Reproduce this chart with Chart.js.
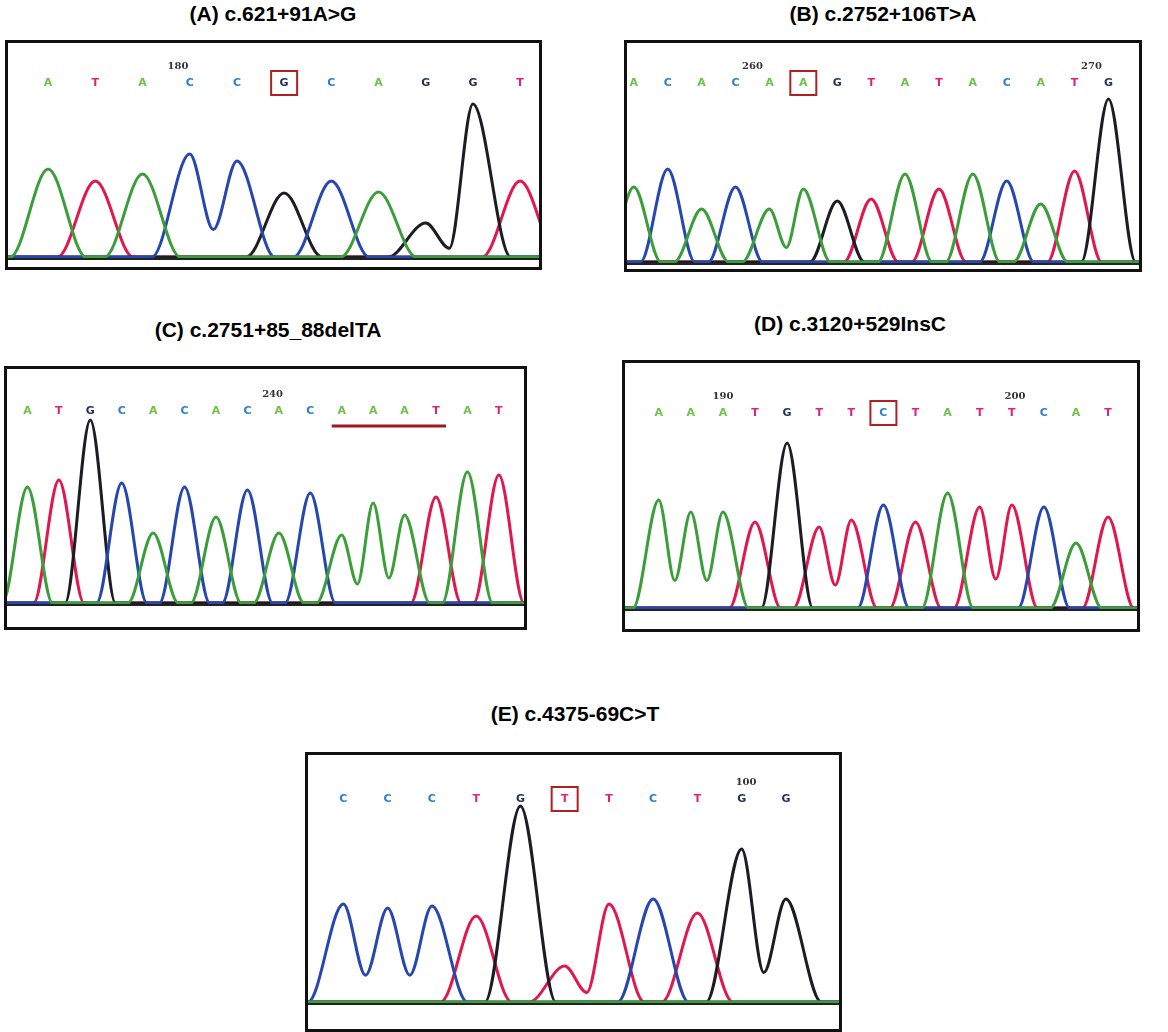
<!DOCTYPE html>
<html>
<head>
<meta charset="utf-8">
<script src="https://cdn.jsdelivr.net/npm/chart.js@4.4.1/dist/chart.umd.min.js"></script>
<style>
  body { margin: 0; background: #fff; width: 1168px; height: 1032px; position: relative; font-family: "Liberation Sans", Arial, sans-serif; }
  .title { position: absolute; font-weight: bold; font-size: 21px; text-align: center; width: 500px; }
  .box { position: absolute; border: 3px solid #111; box-sizing: border-box; }
  .box canvas { position: absolute; left: 0; top: 0; }
</style>
</head>
<body>
<div class="title" style="left:23px;top:2px">(A) c.621+91A&gt;G</div>
<div class="title" style="left:633px;top:2px">(B) c.2752+106T&gt;A</div>
<div class="title" style="left:18px;top:318px">(C) c.2751+85_88delTA</div>
<div class="title" style="left:600px;top:312px">(D) c.3120+529InsC</div>
<div class="title" style="left:325px;top:702px">(E) c.4375-69C&gt;T</div>

<div class="box" id="boxA" style="left:5px;top:40px;width:537px;height:230px"><canvas id="chartA"></canvas></div>
<div class="box" id="boxB" style="left:624px;top:40px;width:518px;height:232px"><canvas id="chartB"></canvas></div>
<div class="box" id="boxC" style="left:4px;top:366px;width:523px;height:264px"><canvas id="chartC"></canvas></div>
<div class="box" id="boxD" style="left:622px;top:360px;width:518px;height:272px"><canvas id="chartD"></canvas></div>
<div class="box" id="boxE" style="left:305px;top:752px;width:537px;height:280px"><canvas id="chartE"></canvas></div>

<script>
// base calls and peak heights (px above baseline) per panel
const basesA = ['A','T','A','C','C','G','C','A','G','G','T'];
const heightsA = [90, 78, 85, 105, 98, 66, 78, 67, 36, 155, 78];
const basesB = ['A','C','A','C','A','A','G','T','A','T','A','C','A','T','G'];
const heightsB = [77, 95, 55, 77, 55, 75, 63, 65, 90, 75, 90, 83, 60, 93, 165];
const basesC = ['A','T','G','C','A','C','A','C','A','C','A','A','A','T','A','T'];
const heightsC = [118, 125, 185, 122, 72, 118, 88, 115, 72, 112, 70, 102, 90, 108, 133, 130];
const basesD = ['A','A','A','T','G','T','T','C','T','A','T','T','C','A','T'];
const heightsD = [110, 98, 98, 88, 167, 83, 90, 105, 88, 117, 103, 105, 103, 67, 93];
const basesE = ['C','C','C','T','G','T','T','C','T','G','G'];
const heightsE = [100, 96, 98, 88, 198, 38, 100, 105, 91, 155, 105];

const traceColors = { A: '#3c9e3a', C: '#2747b0', G: '#1c1c24', T: '#e0184e' };
const letterColors = { A: '#6cc24a', C: '#2f7fd0', G: '#23305e', T: '#e0207a' };

function buildTraces(bases, heights, xMin, xMax) {
  const sets = [];
  ['A', 'C', 'G', 'T'].forEach(function(b) {
    const pts = [{ x: xMin, y: 2 }];
    let prev = -10;
    bases.forEach(function(base, i) {
      if (base !== b) return;
      if (prev === i - 1) {
        pts.push({ x: i - 0.5, y: Math.min(heights[i], heights[prev]) * 0.3 });
      } else {
        pts.push({ x: Math.max(i - 0.8, prev + 0.5), y: 2 });
      }
      pts.push({ x: i, y: heights[i] });
      const next = bases[i + 1];
      if (next !== b) {
        let nextSame = bases.indexOf(b, i + 1);
        let foot = i + 0.8;
        if (nextSame !== -1 && nextSame - 0.8 < foot) foot = (i + nextSame) / 2;
        pts.push({ x: foot, y: 2 });
      }
      prev = i;
    });
    pts.push({ x: xMax, y: 2 });
    sets.push({
      data: pts, borderColor: traceColors[b], borderWidth: 3,
      pointRadius: 0, cubicInterpolationMode: 'monotone', fill: false
    });
  });
  return sets;
}

const lettersPlugin = {
  id: 'letters',
  afterDraw(chart, args, o) {
    const ctx = chart.ctx, xs = chart.scales.x, ys = chart.scales.y;
    ctx.save();
    ctx.font = 'bold 11px "DejaVu Sans", sans-serif';
    ctx.textAlign = 'center';
    ctx.textBaseline = 'middle';
    o.bases.forEach(function(b, i) {
      const x = xs.getPixelForValue(i);
      ctx.fillStyle = letterColors[b];
      ctx.fillText(b, x, o.letterY);
      if (i === o.boxed) {
        ctx.strokeStyle = '#b02020';
        ctx.lineWidth = 2;
        ctx.strokeRect(x - 13, o.letterY - 12, 26, 24);
      }
    });
    ctx.fillStyle = '#333';
    ctx.font = 'bold 10px "DejaVu Serif", serif';
    o.ticks.forEach(function(t) {
      ctx.fillText(t[1], xs.getPixelForValue(t[0]), o.letterY - 17);
    });
    if (o.underline) {
      ctx.strokeStyle = '#a01818';
      ctx.lineWidth = 3;
      ctx.beginPath();
      ctx.moveTo(xs.getPixelForValue(o.underline[0]) - 10, o.letterY + 15);
      ctx.lineTo(xs.getPixelForValue(o.underline[1]) + 10, o.letterY + 15);
      ctx.stroke();
    }
    ctx.strokeStyle = '#222';
    ctx.lineWidth = 2;
    ctx.beginPath();
    ctx.moveTo(0, ys.getPixelForValue(0));
    ctx.lineTo(chart.width, ys.getPixelForValue(0));
    ctx.stroke();
    ctx.restore();
  }
};

function makePanel(id, boxId, bases, heights, cfg) {
  const box = document.getElementById(boxId);
  const cv = document.getElementById(id);
  cv.style.width = (box.clientWidth) + 'px';
  cv.style.height = (box.clientHeight) + 'px';
  new Chart(cv.getContext('2d'), {
    type: 'line',
    data: { datasets: buildTraces(bases, heights, cfg.xMin, cfg.xMax) },
    options: {
      responsive: false, animation: false, maintainAspectRatio: false,
      devicePixelRatio: 1,
      layout: { padding: 0 },
      scales: {
        x: { type: 'linear', display: false, min: cfg.xMin, max: cfg.xMax },
        y: { display: false, min: cfg.yMin, max: cfg.yMax }
      },
      plugins: {
        legend: { display: false }, tooltip: { enabled: false },
        letters: { bases: bases, boxed: cfg.boxed, letterY: cfg.letterY, ticks: cfg.ticks, underline: cfg.underline }
      }
    },
    plugins: [lettersPlugin]
  });
}

document.addEventListener('DOMContentLoaded', function() {
  const sizes = { boxA: [531, 224], boxB: [512, 226], boxC: [517, 258], boxD: [512, 266], boxE: [531, 274] };
  Object.keys(sizes).forEach(function(k) {
    const c = document.getElementById(k).querySelector('canvas');
    c.width = sizes[k][0]; c.height = sizes[k][1];
  });
  makePanel('chartA', 'boxA', basesA, heightsA, { xMin: -0.85, xMax: 10.4, yMin: -8, yMax: 216, boxed: 5, letterY: 40, ticks: [[2.75, '180']] });
  makePanel('chartB', 'boxB', basesB, heightsB, { xMin: -0.2, xMax: 14.9, yMin: -5, yMax: 221, boxed: 5, letterY: 40, ticks: [[3.5, '260'], [13.5, '270']] });
  makePanel('chartC', 'boxC', basesC, heightsC, { xMin: -0.65, xMax: 15.8, yMin: -22, yMax: 236, boxed: -1, letterY: 42, ticks: [[7.8, '240']], underline: [10, 13] });
  makePanel('chartD', 'boxD', basesD, heightsD, { xMin: -1.05, xMax: 14.9, yMin: -19, yMax: 247, boxed: 7, letterY: 50, ticks: [[2, '190'], [11.1, '200']] });
  makePanel('chartE', 'boxE', basesE, heightsE, { xMin: -0.8, xMax: 11.2, yMin: -25, yMax: 249, boxed: 5, letterY: 44, ticks: [[9.1, '100']] });
});
</script>
</body>
</html>
